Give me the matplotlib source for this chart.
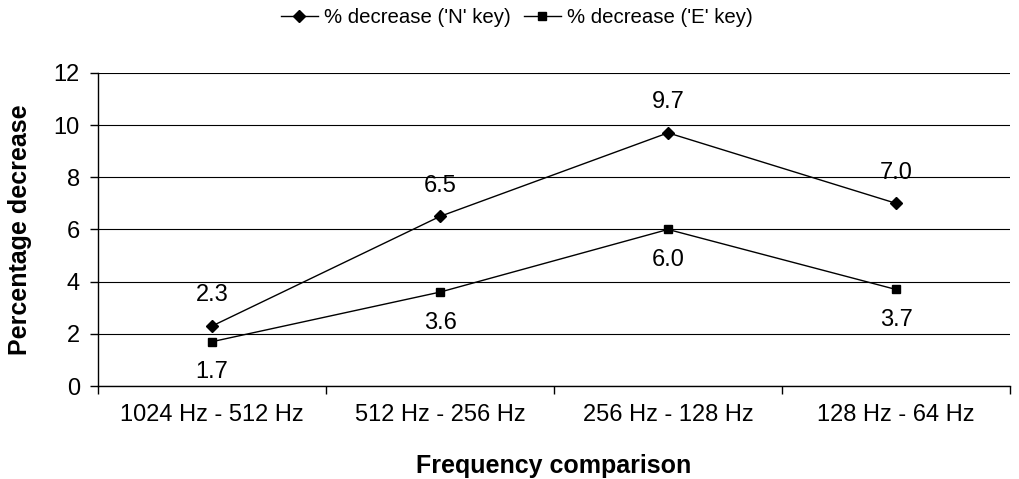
import matplotlib
matplotlib.use("Agg")
import matplotlib.pyplot as plt

plt.rcParams['font.family'] = ['Liberation Sans', 'DejaVu Sans']

# data
categories = ['1024 Hz - 512 Hz', '512 Hz - 256 Hz', '256 Hz - 128 Hz', '128 Hz - 64 Hz']
n_key = [2.3, 6.5, 9.7, 7.0]
e_key = [1.7, 3.6, 6.0, 3.7]
y_ticks = [0, 2, 4, 6, 8, 10, 12]

fig = plt.figure(figsize=(10.19, 4.79), dpi=100)
ax = fig.add_axes([0.0962, 0.194, 0.895, 0.654])

x = list(range(len(categories)))
ax.plot(x, n_key, color='black', lw=1, marker='D', ms=6.5, label="% decrease ('N' key)")
ax.plot(x, e_key, color='black', lw=1, marker='s', ms=6.2, label="% decrease ('E' key)")

# value labels: N above, E below
for xi, v in zip(x, n_key):
    ax.annotate(f'{v:.1f}', (xi, v), xytext=(0, 22), textcoords='offset points',
                ha='center', va='center', fontsize=17)
for xi, v in zip(x, e_key):
    ax.annotate(f'{v:.1f}', (xi, v), xytext=(0, -22), textcoords='offset points',
                ha='center', va='center', fontsize=17)

ax.set_xlim(-0.5, 3.5)
ax.set_ylim(0, 12)
ax.set_yticks(y_ticks)
ax.tick_params(axis='y', labelsize=17, direction='out', length=6, width=1, pad=7)
ax.yaxis.grid(True, color='black', lw=0.8)
ax.set_axisbelow(True)

# category labels centred, tick marks at boundaries
ax.set_xticks(x)
ax.set_xticklabels(categories, fontsize=17)
ax.tick_params(axis='x', which='major', length=0, pad=13)
ax.set_xticks([-0.5, 0.5, 1.5, 2.5, 3.5], minor=True)
ax.tick_params(axis='x', which='minor', length=6, width=1, direction='out')

for side in ['top', 'right']:
    ax.spines[side].set_visible(False)
ax.spines['left'].set_linewidth(1)
ax.spines['bottom'].set_linewidth(1)

ax.set_ylabel('Percentage decrease', fontsize=18, fontweight='bold', labelpad=16)
ax.set_xlabel('Frequency comparison', fontsize=18, fontweight='bold', labelpad=20)

ax.legend(loc='center', bbox_to_anchor=(0.459, 1.176), ncol=2, frameon=False,
          fontsize=14.7, handlelength=1.8, columnspacing=0.65, handletextpad=0.3)

fig.savefig('out.png', dpi=100)
